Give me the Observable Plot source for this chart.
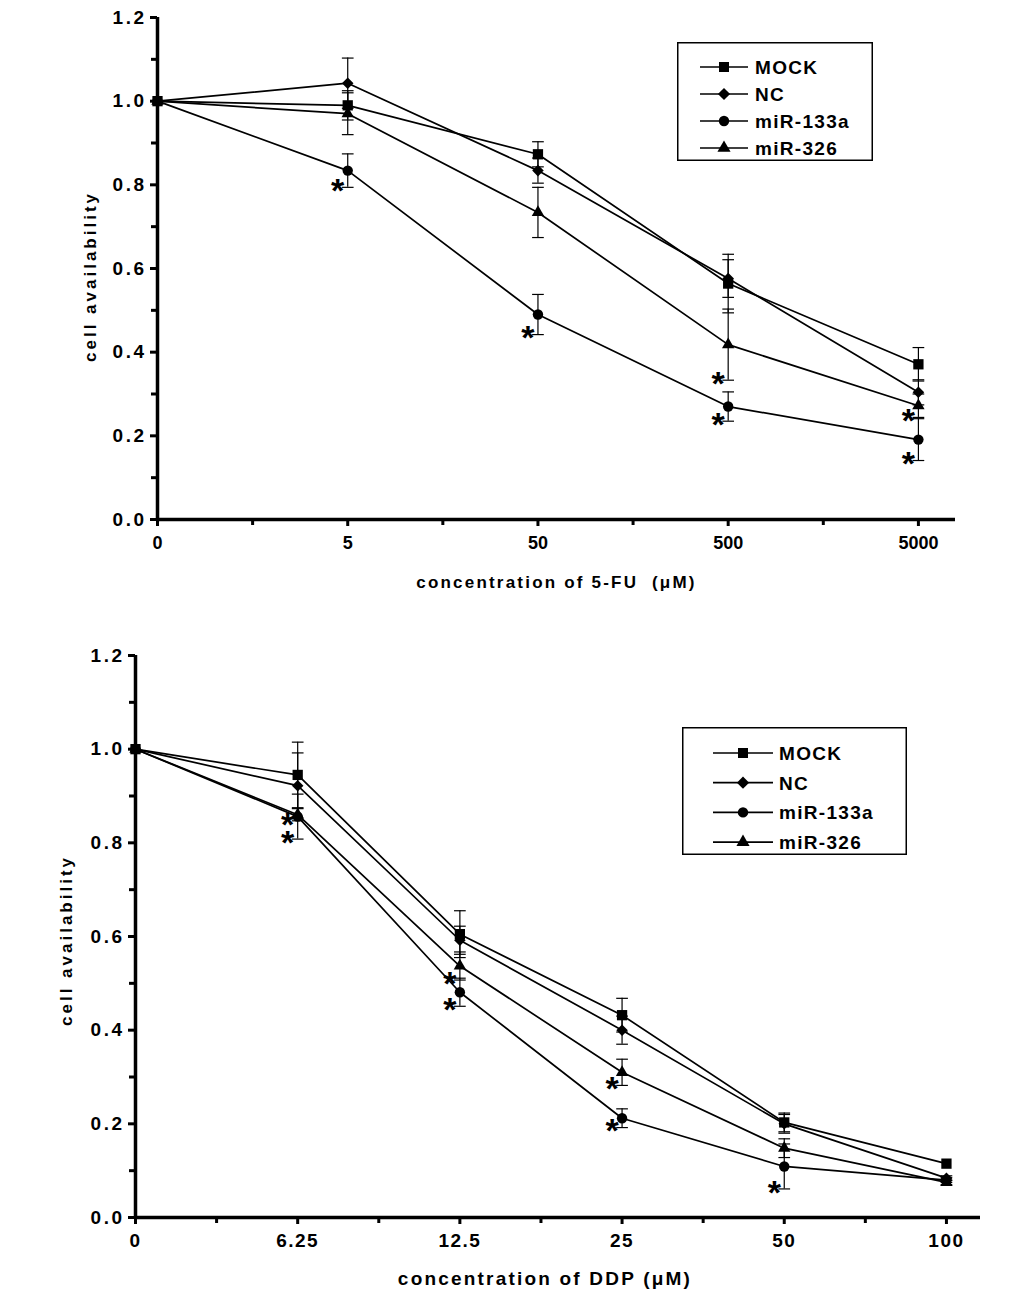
<!DOCTYPE html>
<html>
<head>
<meta charset="utf-8">
<script src="https://cdn.jsdelivr.net/npm/d3@7"></script>
<script src="https://cdn.jsdelivr.net/npm/@observablehq/plot@0.6"></script>
<style>
  body { margin: 0; background: #fff; font-family: "Liberation Sans", Arial, sans-serif; }
  #wrap { position: relative; width: 1033px; height: 1300px; }
  .panel { position: relative; }
  .legend { position: absolute; }
</style>
</head>
<body>
<div id="wrap">
  <div class="panel" id="fu"></div>
  <div class="panel" id="ddp"></div>
</div>
<script>
// ---- data ----
var seriesNames = ["MOCK", "NC", "miR-133a", "miR-326"]
var seriesSymbols = ["square", "diamond2", "circle", "triangle"]

// 5-FU panel
var fuLabels = ["0", "5", "50", "500", "5000"]
var fuMock = [1.0, 0.990, 0.873, 0.564, 0.371]
var fuMockErr = [0, 0.035, 0.030, 0.070, 0.040]
var fuNC = [1.0, 1.043, 0.834, 0.576, 0.304]
var fuNCErr = [0, 0.060, 0.030, 0.045, 0.030]
var fu133a = [1.0, 0.834, 0.490, 0.270, 0.191]
var fu133aErr = [0, 0.040, 0.048, 0.035, 0.050]
var fu326 = [1.0, 0.970, 0.734, 0.418, 0.272]
var fu326Err = [0, 0.050, 0.060, 0.085, 0.028]
var fuStars = {"miR-133a": [1, 2, 3, 4], "miR-326": [3, 4]}

// DDP panel
var ddpLabels = ["0", "6.25", "12.5", "25", "50", "100"]
var ddpMock = [1.0, 0.945, 0.605, 0.432, 0.203, 0.115]
var ddpMockErr = [0, 0.070, 0.050, 0.036, 0.020, 0]
var ddpNC = [1.0, 0.922, 0.592, 0.400, 0.200, 0.084]
var ddpNCErr = [0, 0.070, 0.030, 0.030, 0.020, 0.005]
var ddp133a = [1.0, 0.856, 0.481, 0.212, 0.109, 0.080]
var ddp133aErr = [0, 0.048, 0.030, 0.020, 0.048, 0.005]
var ddp326 = [1.0, 0.860, 0.537, 0.310, 0.148, 0.075]
var ddp326Err = [0, 0.013, 0.030, 0.028, 0.020, 0.005]
var ddpStars = {"miR-133a": [1, 2, 3, 4], "miR-326": [1, 2, 3]}

var yMajor = [0, 0.2, 0.4, 0.6, 0.8, 1.0, 1.2]
var yMinor = [0.1, 0.3, 0.5, 0.7, 0.9, 1.1]
var markerR = {"MOCK": 5.8, "NC": 5.2, "miR-133a": 5.2, "miR-326": 4.6}

// horizontal cap for error bars, sized in pixels
var capSymbol = {
    draw(ctx, size) {
        let w = Math.sqrt(size)
        ctx.moveTo(-w, 0)
        ctx.lineTo(w, 0)
    }
}

function toRows(values, errs) {
    let rows = []
    seriesNames.forEach(function(name, s) {
        values[s].forEach(function(v, i) {
            rows.push({series: name, i: i, value: v, err: errs[s][i]})
        })
    })
    return rows
}

function makePanel(p) {
    let rows = toRows(p.values, p.errs)
    let starRows = rows.filter(d => (p.stars[d.series] || []).includes(d.i))
    let withErr = rows.filter(d => d.err > 0)
    let n = p.labels.length
    let idx = d3.range(n)
    let minor = d3.range(n - 1).map(i => i + 0.5)

    let svg = Plot.plot({
        width: 1033,
        height: p.height,
        marginTop: p.marginTop,
        marginBottom: p.marginBottom,
        marginLeft: p.marginLeft,
        marginRight: p.marginRight,
        style: {background: "#fff", color: "#000", fontFamily: "'Liberation Sans', Arial, sans-serif"},
        x: {domain: [0, p.xMax], axis: null},
        y: {domain: [0, 1.2], axis: null},
        r: {type: "identity"},
        symbol: {domain: seriesNames, range: seriesSymbols},
        marks: [
            // error bars
            Plot.ruleX(withErr, {x: "i", y1: d => d.value - d.err, y2: d => d.value + d.err, stroke: "#000", strokeWidth: 1.2}),
            Plot.dot(withErr, {x: "i", y: d => d.value + d.err, symbol: capSymbol, r: 3.3, stroke: "#000", strokeWidth: 1.2, fill: "none"}),
            Plot.dot(withErr, {x: "i", y: d => d.value - d.err, symbol: capSymbol, r: 3.3, stroke: "#000", strokeWidth: 1.2, fill: "none"}),
            // series
            Plot.line(rows, {x: "i", y: "value", z: "series", stroke: "#000", strokeWidth: 1.7}),
            Plot.dot(rows, {x: "i", y: "value", symbol: "series", r: d => markerR[d.series], fill: "#000", stroke: "none"}),
            // significance marks
            Plot.text(starRows, {x: "i", y: d => d.value - d.err, text: () => "*", dx: -10, dy: 4,
                fontSize: 34, fontWeight: "bold", fill: "#000"}),
            // axes
            Plot.ruleY([0], {stroke: "#000", strokeWidth: 3.5}),
            Plot.ruleX([0], {stroke: "#000", strokeWidth: 3.5}),
            Plot.axisY(yMajor, {tickSize: 7, strokeWidth: 3, tickPadding: 4, tickFormat: d3.format(".1f"),
                fontSize: 19, fontWeight: "bold", label: null}),
            Plot.axisY(yMinor, {tickSize: 6, strokeWidth: 3, text: null, label: null}),
            Plot.axisX(idx, {tickSize: 7, strokeWidth: 3, tickPadding: p.xTickPadding, tickFormat: i => p.labels[i],
                fontSize: p.xTickSize, fontWeight: "bold", label: null}),
            Plot.axisX(minor, {tickSize: 6, strokeWidth: 3, text: null, label: null}),
            Plot.text([p.xLabel], {frameAnchor: "bottom", dy: p.xLabelDy, dx: p.xLabelDx, fontSize: p.xLabelSize,
                fontWeight: "bold", fill: "#000"}),
            Plot.text([p.yLabel], {frameAnchor: "left", textAnchor: "middle", rotate: -90, dx: p.yLabelDx, dy: p.yLabelDy,
                fontSize: 17, fontWeight: "bold", fill: "#000"})
        ]
    })

    // the original figure is set wide: add tracking to the texts
    let s = d3.select(svg)
    s.selectAll('g[aria-label="y-axis tick label"] text').style("letter-spacing", "2.5px")
    s.selectAll('g[aria-label="x-axis tick label"] text').style("letter-spacing", p.xTickSpacing)
    s.selectAll("text").filter(function() { return this.textContent === p.xLabel })
        .style("letter-spacing", p.xLabelSpacing)
    s.selectAll("text").filter(function() { return this.textContent === p.yLabel })
        .style("letter-spacing", "3px")
    return svg
}

function makeLegend(l) {
    let div = d3.create("div").attr("class", "legend")
        .style("left", l.left + "px").style("top", l.top + "px")
    let svg = div.append("svg").attr("width", l.width).attr("height", l.height)
    svg.append("rect").attr("x", 0.75).attr("y", 0.75)
        .attr("width", l.width - 1.5).attr("height", l.height - 1.5)
        .attr("fill", "#fff").attr("stroke", "#000").attr("stroke-width", 1.5)
    let shapes = [d3.symbolSquare, d3.symbolDiamond2, d3.symbolCircle, d3.symbolTriangle]
    let sizes = [100, 95, 85, 75]
    seriesNames.forEach(function(name, i) {
        let g = svg.append("g").attr("transform", `translate(0,${l.rowTop + i * l.rowGap})`)
        g.append("line").attr("x1", l.lineX1).attr("x2", l.lineX2)
            .attr("stroke", "#000").attr("stroke-width", 1.7)
        g.append("path").attr("d", d3.symbol(shapes[i], sizes[i])())
            .attr("transform", `translate(${(l.lineX1 + l.lineX2) / 2},0)`)
        g.append("text").attr("x", l.textX).attr("dy", "0.36em")
            .attr("font-size", 19).attr("font-weight", "bold")
            .attr("letter-spacing", "1.3px").text(name)
    })
    return div.node()
}

var fuDiv = document.getElementById("fu")
fuDiv.append(makePanel({
    labels: fuLabels,
    values: [fuMock, fuNC, fu133a, fu326],
    errs: [fuMockErr, fuNCErr, fu133aErr, fu326Err],
    stars: fuStars,
    height: 600, marginTop: 17, marginBottom: 81, marginLeft: 157, marginRight: 78,
    xMax: 4.195,
    xTickPadding: 10, xTickSize: 18, xTickSpacing: "0px",
    xLabel: "concentration of 5-FU  (\u03bcM)",
    xLabelDy: 68, xLabelDx: 0, xLabelSize: 17, xLabelSpacing: "2.2px",
    yLabel: "cell availability",
    yLabelDx: -67, yLabelDy: 8
}))
fuDiv.append(makeLegend({left: 677, top: 42, width: 196, height: 119,
    rowTop: 25, rowGap: 27, lineX1: 23, lineX2: 71, textX: 78}))

var ddpDiv = document.getElementById("ddp")
ddpDiv.append(makePanel({
    labels: ddpLabels,
    values: [ddpMock, ddpNC, ddp133a, ddp326],
    errs: [ddpMockErr, ddpNCErr, ddp133aErr, ddp326Err],
    stars: ddpStars,
    height: 700, marginTop: 55, marginBottom: 83, marginLeft: 135, marginRight: 53,
    xMax: 5.21,
    xTickPadding: 9, xTickSize: 19, xTickSpacing: "1.5px",
    xLabel: "concentration of DDP (\u03bcM)",
    xLabelDy: 67, xLabelDx: -13, xLabelSize: 19, xLabelSpacing: "2.2px",
    yLabel: "cell availability",
    yLabelDx: -69, yLabelDy: 4
}))
ddpDiv.append(makeLegend({left: 682, top: 127, width: 225, height: 128,
    rowTop: 26, rowGap: 29.7, lineX1: 31, lineX2: 91, textX: 97}))
</script>
</body>
</html>
